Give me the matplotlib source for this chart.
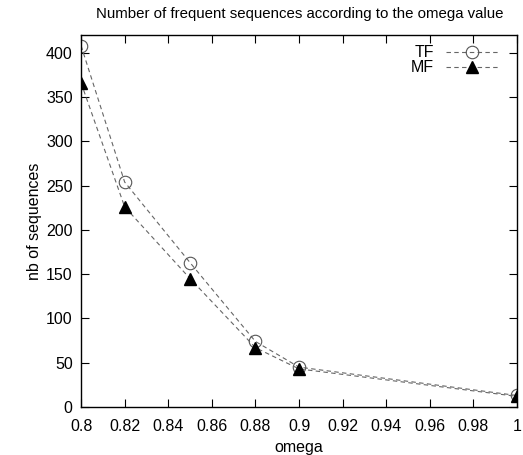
import matplotlib
matplotlib.use("Agg")
import matplotlib.pyplot as plt

plt.rcParams['font.family'] = ['Liberation Sans', 'DejaVu Sans']

omega = [0.8, 0.82, 0.85, 0.88, 0.9, 1.0]
tf_values = [408, 254, 163, 74, 45, 13]
mf_values = [366, 226, 145, 67, 43, 12]
xticks = [0.8, 0.82, 0.84, 0.86, 0.88, 0.9, 0.92, 0.94, 0.96, 0.98, 1.0]
xtick_labels = ['0.8', '0.82', '0.84', '0.86', '0.88', '0.9', '0.92', '0.94', '0.96', '0.98', '1']
yticks = [0, 50, 100, 150, 200, 250, 300, 350, 400]

fig = plt.figure(figsize=(5.23, 4.55), dpi=100)
ax = fig.add_axes([0.155, 0.1055, 0.8335, 0.8175])

ax.plot(omega, tf_values, linestyle=(0, (4, 3)), color='#666666', linewidth=0.8,
        marker='o', markersize=9, markerfacecolor='none', markeredgecolor='#555555',
        markeredgewidth=0.8, label='TF')
ax.plot(omega, mf_values, linestyle=(0, (4, 3)), color='#666666', linewidth=0.8,
        marker='^', markersize=9, markerfacecolor='black', markeredgecolor='black',
        label='MF')

ax.set_xlim(0.8, 1.0)
ax.set_ylim(0, 420)
ax.set_xticks(xticks)
ax.set_xticklabels(xtick_labels)
ax.set_yticks(yticks)
ax.tick_params(direction='in', top=True, right=True, length=6, width=0.8,
               labelsize=11.5)
ax.tick_params(axis='x', pad=9)
ax.tick_params(axis='y', pad=6)
for s in ax.spines.values():
    s.set_linewidth(1.0)

ax.set_xlabel('omega', fontsize=11.5, labelpad=4)
ax.set_ylabel('nb of sequences', fontsize=11.5, labelpad=3)
fig.suptitle('Number of frequent sequences according to the omega value',
             fontsize=10.8, x=0.573, y=0.985)

ax.legend(loc='upper right', frameon=False, markerfirst=False, fontsize=11.5,
          handlelength=3.2, handletextpad=0.8, labelspacing=0.0,
          borderaxespad=0.0, bbox_to_anchor=(0.97, 0.99))

fig.savefig('out.png', dpi=100)
